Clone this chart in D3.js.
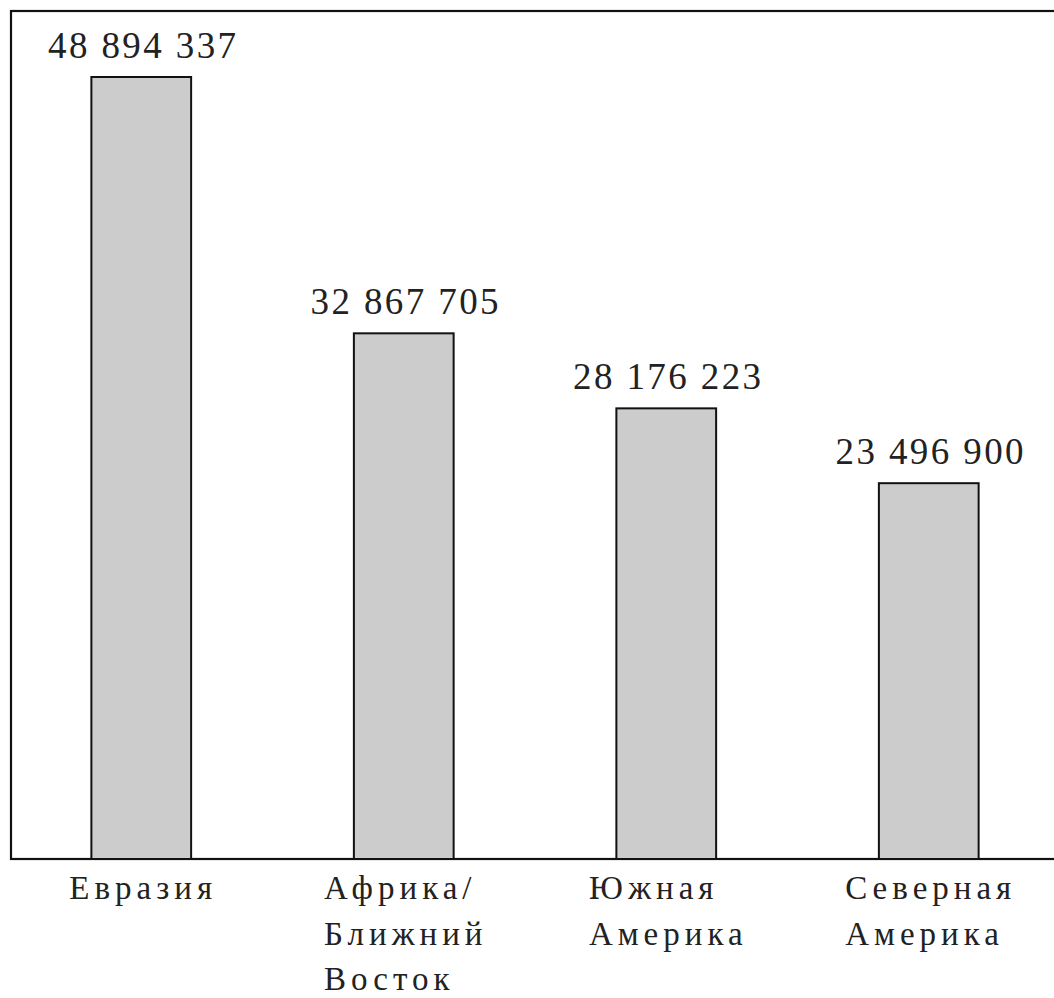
<!DOCTYPE html>
<html>
<head>
<meta charset="utf-8">
<script src="https://cdn.jsdelivr.net/npm/d3@7"></script>
<style>
  html, body { margin: 0; padding: 0; background: #fff; }
  #wrap { position: relative; width: 1054px; height: 998px; overflow: hidden; }
  #wrap svg { position: absolute; left: 0; top: 0; display: block; }
  .lbl { position: absolute; font-family: "Liberation Serif", Tinos, "Times New Roman", serif; color: #222; white-space: nowrap; }
</style>
</head>
<body>
<div id="wrap"><svg id="s" width="1054" height="998"></svg></div>
<script>
const categories = [
  ["Евразия"],
  ["Африка/", "Ближний", "Восток"],
  ["Южная", "Америка"],
  ["Северная", "Америка"]
];
const values = [48894337, 32867705, 28176223, 23496900];
const valueLabels = ["48 894 337", "32 867 705", "28 176 223", "23 496 900"];

const svg = d3.select("#s");
const wrap = d3.select("#wrap");
const frame = { left: 11, top: 11, right: 1070, bottom: 859 };

const x = d3.scaleBand()
  .domain(d3.range(values.length))
  .range([10, 1060])
  .paddingInner(0.62)
  .paddingOuter(0.31);

const y = d3.scaleLinear()
  .domain([0, values[0]])
  .range([frame.bottom, 77]);

svg.append("rect")
  .attr("x", frame.left)
  .attr("y", frame.top)
  .attr("width", frame.right - frame.left)
  .attr("height", frame.bottom - frame.top)
  .attr("fill", "none")
  .attr("stroke", "#111")
  .attr("stroke-width", 2.2);

svg.selectAll("rect.bar")
  .data(values)
  .join("rect")
  .attr("class", "bar")
  .attr("x", (d, i) => x(i))
  .attr("y", d => y(d))
  .attr("width", x.bandwidth())
  .attr("height", d => y(0) - y(d))
  .attr("fill", "#cccccc")
  .attr("stroke", "#111")
  .attr("stroke-width", 2);

// value labels (HTML text positioned from the scales)
const vfs = 37;
wrap.selectAll("div.val")
  .data(values)
  .join("div")
  .attr("class", "lbl val")
  .style("font-size", vfs + "px")
  .style("line-height", vfs + "px")
  .style("letter-spacing", "2.4px")
  .style("left", (d, i) => (x(i) + x.bandwidth() / 2 + 2) + "px")
  .style("top", d => (y(d) - 19 - 0.8375 * vfs) + "px")
  .style("transform", "translateX(-50%)")
  .text((d, i) => valueLabels[i]);

// category labels
const cfs = 33, lh = 45.5;
wrap.selectAll("div.cat")
  .data(categories)
  .join("div")
  .attr("class", "lbl cat")
  .style("font-size", cfs + "px")
  .style("line-height", lh + "px")
  .style("letter-spacing", "5px")
  .style("text-align", "left")
  .style("left", (d, i) => (x(i) + x.bandwidth() / 2 + 2) + "px")
  .style("top", (900 - ((lh - cfs * 1.107) / 2 + 0.891 * cfs)) + "px")
  .style("transform", "translateX(-50%)")
  .html(d => d.join("<br>"));
</script>
</body>
</html>
